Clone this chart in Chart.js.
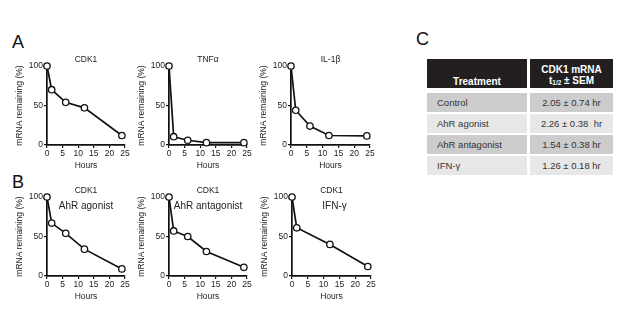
<!DOCTYPE html>
<html>
<head>
<meta charset="utf-8">
<script src="https://cdn.jsdelivr.net/npm/chart.js@4.4.1/dist/chart.umd.min.js"></script>
<style>
  body { margin: 0; background: #fff; font-family: "Liberation Sans", Arial, sans-serif; }
  #wrap { position: relative; width: 617px; height: 331px; overflow: hidden; }
  canvas { position: absolute; }
  .letter { position: absolute; font-size: 18px; color: #111; line-height: 1; }
  .cell { position: absolute; font-size: 9.5px; color: #333; box-sizing: border-box; }
  .hdr { background: #231f20; color: #fff; font-weight: bold; font-size: 10px; text-align: center; }
</style>
</head>
<body>
<div id="wrap">
  <div class="letter" style="left:12px;top:33px;">A</div>
  <div class="letter" style="left:12px;top:173px;">B</div>
  <div class="letter" style="left:416px;top:30px;">C</div>
  <canvas id="a1"></canvas>
  <canvas id="a2"></canvas>
  <canvas id="a3"></canvas>
  <canvas id="b1"></canvas>
  <canvas id="b2"></canvas>
  <canvas id="b3"></canvas>
  <div id="table"></div>
</div>
<script>
// hours sampled
var hours = [0, 1.5, 6, 12, 24];
var hoursIfng = [0, 1.5, 12, 24];

// mRNA remaining (%)
var cdk1Control = [100, 70, 54, 47, 12];
var tnfAlpha = [100, 10.5, 6, 3, 3];
var il1Beta = [100, 44, 24, 12, 11.5];
var cdk1Agonist = [100, 67, 54, 34, 9];
var cdk1Antagonist = [100, 57, 50, 31, 11];
var cdk1Ifng = [100, 61, 40, 12];

var xTicks = [0, 5, 10, 15, 20, 25];
var yTicks = [0, 50, 100];

// table C
var treatments = ["Control", "AhR agonist", "AhR antagonist", "IFN-\u03b3"];
var halfLives = ["2.05 \u00b1 0.74 hr", "2.26 \u00b1 0.38  hr", "1.54 \u00b1 0.38 hr", "1.26 \u00b1 0.18 hr"];

var Y_W = 33, TOP = 12, BOTTOM = 26, RIGHT = 8, PLOT_H = 79;
var FAMILY = '"Liberation Sans", Arial, sans-serif';

// panel title above the plot + label inside the plot (row B)
var panelText = {
    id: 'panelText',
    afterDraw: function (chart, args, opts) {
        var ctx = chart.ctx, a = chart.chartArea;
        var cx = (a.left + a.right) / 2;
        ctx.save();
        ctx.fillStyle = '#222';
        ctx.textAlign = 'center';
        ctx.textBaseline = 'middle';
        if (opts.title) {
            ctx.font = '8.5px ' + FAMILY;
            ctx.fillText(opts.title, cx + (opts.titleDx || 0), a.top - 6);
        }
        if (opts.inner) {
            ctx.font = '10px ' + FAMILY;
            ctx.fillText(opts.inner, cx + (opts.innerDx || 0), a.top + 9);
        }
        ctx.restore();
    }
};

function makeChart(id, plotLeft, plotTop, plotW, xs, ys, title, inner, innerDx) {
    var canvas = document.getElementById(id);
    canvas.width = Y_W + plotW + RIGHT;
    canvas.height = TOP + PLOT_H + BOTTOM;
    canvas.style.left = (plotLeft - Y_W) + 'px';
    canvas.style.top = (plotTop - TOP) + 'px';

    var pts = [];
    for (var i = 0; i < xs.length; i++) {
        pts.push({x: xs[i], y: ys[i]});
    }

    var font = {family: FAMILY, size: 8.5};

    new Chart(canvas.getContext('2d'), {
        type: 'line',
        data: {
            datasets: [{
                data: pts,
                borderColor: '#111',
                borderWidth: 1.7,
                backgroundColor: '#fff',
                pointRadius: 3.2,
                pointBorderWidth: 1.3,
                pointBorderColor: '#111',
                pointBackgroundColor: '#fff',
                clip: false
            }]
        },
        options: {
            responsive: false,
            animation: false,
            devicePixelRatio: 1,
            layout: {padding: {top: TOP, right: RIGHT, left: 0, bottom: 0}},
            plugins: {
                legend: {display: false},
                tooltip: {enabled: false},
                panelText: {title: title, inner: inner, innerDx: innerDx}
            },
            scales: {
                x: {
                    type: 'linear',
                    min: 0,
                    max: 25,
                    afterFit: function (s) { s.height = BOTTOM; },
                    afterBuildTicks: function (s) {
                        s.ticks = xTicks.map(function (v) { return {value: v}; });
                    },
                    ticks: {color: '#222', font: font, padding: 1, maxRotation: 0},
                    grid: {drawOnChartArea: false, drawTicks: true, tickLength: 3, color: '#111', lineWidth: 1.2},
                    border: {color: '#111', width: 1.7},
                    title: {display: true, text: 'Hours', color: '#222', font: font, padding: 0}
                },
                y: {
                    min: 0,
                    max: 100,
                    afterFit: function (s) { s.width = Y_W; },
                    afterBuildTicks: function (s) {
                        s.ticks = yTicks.map(function (v) { return {value: v}; });
                    },
                    ticks: {color: '#222', font: font, padding: 1},
                    grid: {drawOnChartArea: false, drawTicks: true, tickLength: 3, color: '#111', lineWidth: 1.2},
                    border: {color: '#111', width: 1.7},
                    title: {display: true, text: 'mRNA remaining (%)', color: '#222', font: font, padding: {top: 1, bottom: 0}}
                }
            }
        },
        plugins: [panelText]
    });
}

makeChart('a1', 47, 66, 78, hours, cdk1Control, 'CDK1');
makeChart('a2', 169, 66, 78, hours, tnfAlpha, 'TNF\u03b1');
makeChart('a3', 291, 66, 79, hours, il1Beta, 'IL-1\u03b2');
makeChart('b1', 47, 197, 78, hours, cdk1Agonist, 'CDK1', 'AhR agonist');
makeChart('b2', 169, 197, 78, hours, cdk1Antagonist, 'CDK1', 'AhR antagonist');
makeChart('b3', 292, 197, 79, hoursIfng, cdk1Ifng, 'CDK1', 'IFN-\u03b3', 3);

// table C
(function () {
    var t = document.getElementById('table');
    var html = '';
    html += '<div class="cell hdr" style="left:427px;top:59px;width:100px;height:29px;padding-top:17px;">Treatment</div>';
    html += '<div class="cell hdr" style="left:530px;top:59px;width:83px;height:29px;padding-top:5px;line-height:11px;">CDK1 mRNA<br>t<sub style="font-size:6.5px;vertical-align:-1px;">1/2</sub> \u00b1 SEM</div>';
    var rowTops = [93, 114, 135, 156];
    for (var i = 0; i < treatments.length; i++) {
        var bg = i % 2 === 0 ? '#cccccc' : '#e7e7e7';
        var top = rowTops[i];
        html += '<div class="cell" style="left:427px;top:' + top + 'px;width:100px;height:19px;line-height:19px;padding-left:10px;background:' + bg + ';">' + treatments[i] + '</div>';
        html += '<div class="cell" style="left:530px;top:' + top + 'px;width:83px;height:19px;line-height:19px;text-align:center;white-space:pre;background:' + bg + ';">' + halfLives[i] + '</div>';
    }
    t.innerHTML = html;
})();
</script>
</body>
</html>
